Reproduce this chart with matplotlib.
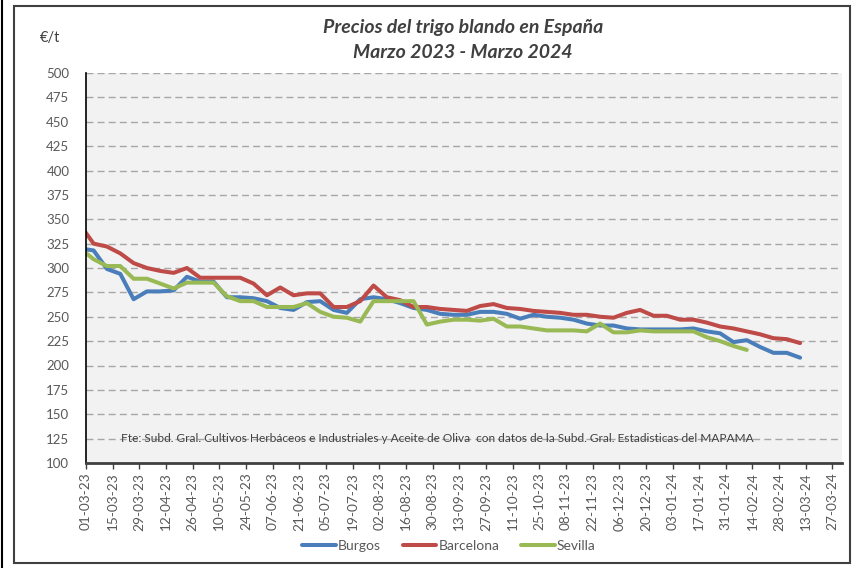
import matplotlib.pyplot as plt
import matplotlib.dates as mdates
from matplotlib.patches import Rectangle
from matplotlib.lines import Line2D
import pandas as pd

plt.rcParams['font.family'] = ['Lato', 'DejaVu Sans']

# weekly prices (EUR/t), first week 26-02-23
start_week = "2023-02-26"
burgos = [320, 318, 299, 294, 268, 276, 276, 277, 291, 286, 286, 270, 270, 269, 266,
          259, 257, 265, 266, 257, 254, 268, 270, 268, 264, 259, 257, 253, 252, 252,
          255, 255, 253, 248, 252, 250, 249, 247, 243, 241, 241, 238, 237, 237, 237,
          237, 238, 235, 233, 224, 226, 219, 213, 213, 208]
barcelona = [344, 325, 322, 315, 305, 300, 297, 295, 300, 290, 290, 290, 290, 284, 272,
             280, 272, 274, 274, 260, 260, 266, 282, 270, 267, 260, 260, 258, 257, 256,
             261, 263, 259, 258, 256, 255, 254, 252, 252, 250, 249, 254, 257, 251, 251,
             247, 247, 244, 240, 238, 235, 232, 228, 227, 223]
sevilla = [320, 309, 302, 302, 289, 289, 284, 279, 285, 285, 285, 271, 266, 266, 260,
           260, 260, 264, 255, 250, 249, 245, 266, 266, 266, 266, 242, 245, 247, 247,
           246, 248, 240, 240, 238, 236, 236, 236, 235, 243, 234, 234, 236, 235, 235,
           235, 235, 229, 225, 220, 216]

weeks = pd.date_range(start_week, periods=len(burgos), freq="7D")
y_ticks = list(range(100, 501, 25))
x_ticks = pd.date_range("2023-03-01", "2024-03-27", freq="14D")

fig = plt.figure(figsize=(8.63, 5.68), dpi=100)
ax = fig.add_axes([86/863, 1-463/568, (842-86)/863, (463-73)/568])
ax.set_facecolor('#F2F2F2')

ax.plot(weeks, burgos, color='#4A7EBB', lw=2.9, label='Burgos', solid_capstyle='round')
ax.plot(weeks, barcelona, color='#BE4B48', lw=2.9, label='Barcelona', solid_capstyle='round')
ax.plot(weeks[:len(sevilla)], sevilla, color='#98B954', lw=2.9, label='Sevilla', solid_capstyle='round')

ax.set_ylim(100, 500)
ax.set_yticks(y_ticks)
ax.set_xlim(pd.Timestamp("2023-03-01"), pd.Timestamp("2024-04-01"))
ax.set_xticks(x_ticks)
ax.xaxis.set_major_formatter(mdates.DateFormatter('%d-%m-%y'))
ax.grid(axis='y', color='#A6A6A6', ls=(0, (5, 3)), lw=1)
ax.set_axisbelow(True)
for s in ['top', 'right']:
    ax.spines[s].set_visible(False)
ax.spines['left'].set_color('black')
ax.spines['left'].set_linewidth(1.2)
ax.spines['bottom'].set_color('#404040')
ax.spines['bottom'].set_linewidth(2)
ax.tick_params(axis='y', length=0, labelsize=9.5, labelcolor='#595959', pad=12)
ax.tick_params(axis='x', length=4, width=1, color='#404040', labelsize=9.8,
               labelcolor='#595959', rotation=90, pad=3)

ax.text(0.465, 125, "Fte: Subd. Gral. Cultivos Herbáceos e Industriales y Aceite de Oliva  con datos de la Subd. Gral. Estadisticas del MAPAMA",
        transform=ax.get_yaxis_transform(), ha='center', va='center', fontsize=8.6, color='#404040')

fig.text(463/863, 1-28/568, "Precios del trigo blando en España", ha='center', va='center',
         fontsize=14, fontweight='bold', style='italic', color='#404040')
fig.text(463/863, 1-52/568, "Marzo 2023 - Marzo 2024", ha='center', va='center',
         fontsize=14, fontweight='bold', style='italic', color='#404040')
fig.text(50/863, 1-38/568, "€/t", ha='center', va='center', fontsize=10.5, color='#404040')

fig.legend(loc='center', bbox_to_anchor=(449/863, 1-546/568), ncol=3, frameon=False,
           fontsize=10, labelcolor='#595959', handlelength=2.4, columnspacing=1.6,
           handletextpad=0.15)

fig.add_artist(Rectangle((14/863, 1-563/568), (850-14)/863, (563-6)/568,
                         transform=fig.transFigure, fill=False, ec='#404040', lw=1.5))
fig.add_artist(Line2D([2/863, 2/863], [0, 1], transform=fig.transFigure, color='black', lw=1.5))

fig.savefig('out.png', dpi=100)
